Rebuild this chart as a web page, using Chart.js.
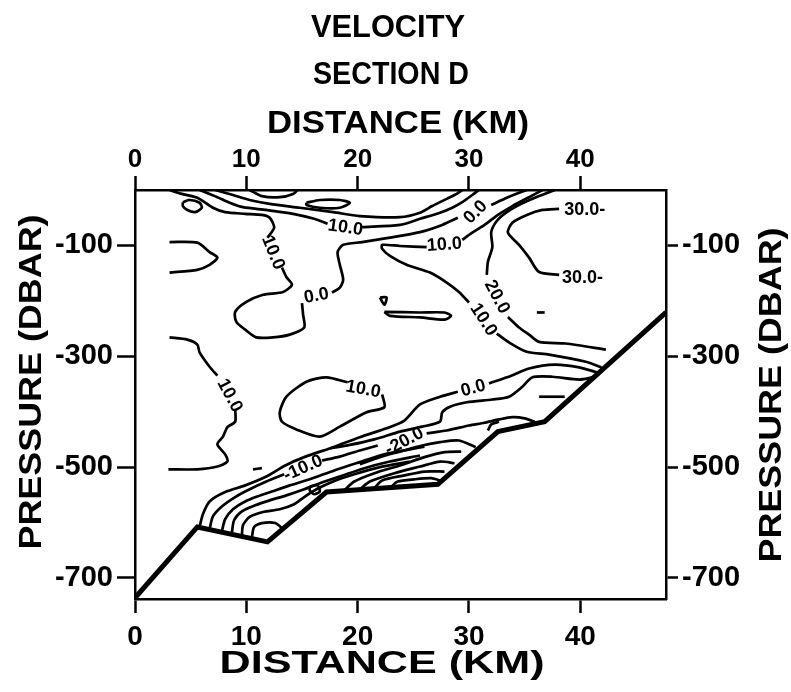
<!DOCTYPE html>
<html>
<head>
<meta charset="utf-8">
<script src="https://cdn.jsdelivr.net/npm/chart.js@4.4.1/dist/chart.umd.min.js"></script>
<style>
  html, body { margin: 0; padding: 0; background: #fff; }
  #wrap { width: 791px; height: 692px; }
</style>
</head>
<body>
<div id="wrap"><canvas id="c" width="791" height="692"></canvas></div>
<script>
// --- axis ranges and ticks ---
const distTicks = [0, 10, 20, 30, 40];
const presTicks = [-100, -300, -500, -700];
const distRange = [0, 47.7];
const presRange = [-738, 0];

// --- bottom topography (km, dbar) ---
const bottom = [[0,-736],[5.6,-608],[11.9,-635],[17.2,-545],[27.2,-531],[32.6,-436],[36.8,-418],[47.7,-221]];

// --- contour traces (km, dbar), split where a label sits ---
const topA = [[7.2,0],[8.8,-9],[10.3,-18],[12.1,-25],[14.8,-32],[17.8,-40],[20.2,-47],[23.8,-49],[25.6,-41],[26.7,-29],[28.0,-16],[28.9,-7],[29.4,0]];
const topB1 = [[5.8,0],[7.4,-13],[8.5,-23],[9.7,-31],[11.8,-36],[14.2,-43],[16.1,-52],[17.3,-61]];
const topB2 = [[20.4,-67],[23.8,-63],[25.6,-52],[27.4,-41],[28.5,-32],[29.4,-22],[30.3,-9],[30.9,0]];
const topC1 = [[3.1,0],[4.2,-7],[5.6,-14],[7.0,-32],[8.1,-40],[9.9,-43],[11.4,-45],[12.1,-50],[12.5,-68],[11.9,-86]];
const topC2 = [[13.2,-140],[13.6,-157],[14.1,-171],[13.3,-184],[11.5,-189],[10.0,-202],[9.0,-220],[9.1,-238],[9.9,-252],[10.9,-266],[12.4,-266],[13.9,-261],[15.2,-248],[15.1,-225],[15.0,-204]];
const topC3 = [[17.7,-185],[18.4,-176],[18.7,-162],[18.4,-135],[18.2,-112],[18.7,-99],[20.4,-94],[22.9,-86],[25.6,-76],[27.6,-63],[29.0,-50]];
const topC4 = [[32.0,-27],[33.4,-14],[34.5,-5],[35.2,0]];
const topD1 = [[36.6,0],[35.4,-13],[33.9,-29],[32.6,-45],[31.4,-63],[30.3,-77],[29.4,-90]];
const topD2 = [[26.2,-103],[23.8,-101],[22.2,-99],[22.2,-106],[22.9,-119],[24.4,-135],[26.5,-149],[28.0,-167],[29.1,-184],[30.0,-203]];
const topD3 = [[32.5,-259],[33.6,-275],[35.2,-292],[37.2,-297],[40.5,-310],[41.9,-320]];
const c20a = [[37.7,0],[36.3,-11],[34.7,-25],[33.4,-40],[32.5,-56],[32.0,-76],[32.1,-103],[31.7,-130],[31.6,-153]];
const c20b = [[33.5,-229],[34.5,-248],[35.4,-261],[36.3,-274],[38.7,-277],[42.3,-288]];
const c30 = [[38.1,-34],[36.6,-36],[35.2,-45],[33.9,-59],[33.5,-77],[34.5,-99],[35.4,-122],[36.3,-148],[38.1,-153]];
const loopE1 = [[4.3,-22],[4.9,-18],[5.8,-23],[6.0,-32],[5.4,-40],[4.7,-36],[4.3,-29],[4.3,-22]];
const loopE2 = [[15.4,-23],[16.6,-18],[18.4,-18],[19.3,-23],[18.4,-32],[16.6,-32],[15.4,-27],[15.4,-23]];
const dipU = [[10.3,0],[11.4,-11],[13.0,-13],[14.2,-7],[14.6,0]];
const left1 = [[3.1,-94],[5.6,-95],[6.7,-112],[7.4,-122],[6.7,-135],[5.6,-144],[3.1,-149]];
const left2a = [[3.1,-266],[4.7,-270],[5.6,-279],[5.8,-293],[6.7,-319],[7.4,-335]];
const left2b = [[9.0,-396],[9.0,-418],[8.3,-428],[7.9,-445],[7.4,-459],[8.1,-477],[8.3,-490],[7.4,-499],[5.6,-504],[3.0,-504]];
const midLoop = [[22.2,-369],[22.4,-392],[20.8,-401],[18.4,-427],[16.6,-445],[14.5,-432],[13.2,-418],[13.0,-401],[13.6,-373],[15.4,-346],[17.2,-338],[19.1,-347]];
const wedge = [[22.4,-220],[25.6,-221],[27.8,-221],[28.4,-227],[27.8,-234],[25.6,-230],[22.9,-227],[22.4,-220]];
const blip = [[22.0,-194],[22.6,-194],[22.4,-207],[22.0,-194]];
const dash1 = [[36.1,-221],[36.8,-221]];
const dash2 = [[10.6,-504],[11.4,-502]];
const b0a = [[5.8,-608],[6.1,-585],[6.7,-562],[8.1,-545],[9.9,-533],[11.7,-518],[13.5,-497],[15.2,-482],[17.8,-464],[20.2,-446],[22.6,-430],[24.2,-416],[25.6,-387],[27.4,-373],[29.0,-364]];
const b0b = [[31.8,-349],[33.8,-335],[35.4,-322],[37.7,-315],[39.9,-320],[41.5,-329]];
const b0c = [[17.5,-466],[19.3,-460],[21.5,-450],[23.8,-436],[25.8,-427],[27.4,-418],[27.6,-401],[28.3,-391],[29.8,-383],[32.1,-378],[33.6,-373],[34.8,-355],[35.7,-338],[37.5,-337],[39.9,-342],[41.1,-338]];
const b1a = [[6.7,-612],[7.0,-589],[7.8,-571],[9.0,-554],[10.3,-540],[11.8,-526],[13.4,-513]];
const b1b = [[16.8,-488],[18.4,-481],[20.2,-470],[21.8,-461]];
const b1c = [[26.2,-439],[28.0,-434],[30.0,-425],[31.4,-420],[32.7,-414],[33.9,-410],[35.0,-412],[35.9,-418]];
const bump = [[31.7,-434],[32.0,-423],[32.7,-418]];
const shortLine = [[36.3,-373],[38.6,-373]];
const b2 = [[7.8,-616],[8.1,-594],[8.8,-576],[9.9,-562],[11.0,-553],[12.3,-544],[13.9,-533],[15.7,-522],[17.9,-506],[20.2,-491],[22.4,-477],[24.7,-468],[26.0,-463]];
const b3 = [[8.7,-619],[8.9,-596],[9.6,-580],[10.8,-569],[12.1,-560],[13.6,-551],[15.2,-540],[16.6,-529],[18.4,-517],[20.6,-502],[22.9,-490],[25.6,-479]];
const b4 = [[9.6,-625],[9.7,-605],[10.3,-590],[11.5,-581],[13.0,-576],[14.3,-567],[15.2,-554],[16.3,-540],[17.8,-526],[19.7,-513],[22.0,-500],[24.7,-490]];
const b5 = [[10.5,-627],[10.7,-608],[11.4,-601],[12.6,-601],[13.3,-612]];
const smallLoop = [[15.7,-535],[16.4,-533],[16.6,-544],[16.1,-549],[15.7,-542],[15.7,-535]];
const d0 = [[20.2,-495],[22.0,-482],[23.8,-472],[25.8,-461],[27.4,-455],[29.1,-452],[30.6,-464]];
const d1 = [[18.8,-542],[19.7,-526],[21.5,-511],[23.8,-497],[26.0,-482],[27.8,-473],[29.3,-472]];
const d2 = [[20.2,-540],[21.1,-526],[23.3,-511],[25.6,-499],[27.4,-490],[28.7,-493]];
const d3 = [[21.5,-538],[22.2,-524],[24.2,-515],[26.0,-508],[27.8,-508]];
const d4 = [[23.0,-536],[23.6,-526],[25.1,-522],[26.6,-520],[27.4,-524]];

const contours = [topA, topB1, topB2, topC1, topC2, topC3, topC4, topD1, topD2, topD3,
  c20a, c20b, c30, loopE1, loopE2, dipU, left1, left2a, left2b, midLoop, wedge, blip,
  dash1, dash2, b0a, b0b, b0c, b1a, b1b, b1c, bump, shortLine, b2, b3, b4, b5,
  smallLoop, d0, d1, d2, d3, d4];

// --- contour labels ---
const labelText = ['10.0','10.0','0.0','0.0','10.0','10.0','20.0','30.0-','30.0-','10.0','10.0','0.0','-10.0','-20.0'];
const labelAt = [[18.9,-68],[12.4,-113],[16.3,-191],[30.6,-40],[27.8,-99],[31.3,-234],[32.5,-193],[40.4,-36],[40.2,-158],[8.5,-371],[20.5,-360],[30.4,-358],[15.1,-502],[24.2,-454]];
const labelTilt = [8, 68, -10, -45, -4, 57, 62, 0, 0, 62, 10, -15, -24, -28];

const FONT = '"Liberation Sans", Arial, Helvetica, sans-serif';

function stretchText(ctx, text, cx, cy, size, width, rot) {
  ctx.save();
  ctx.font = 'bold ' + size + 'px ' + FONT;
  const w = ctx.measureText(text).width;
  ctx.translate(cx, cy);
  ctx.rotate(rot);
  ctx.scale(width / w, 1);
  ctx.textAlign = 'center';
  ctx.textBaseline = 'middle';
  ctx.fillStyle = '#000';
  ctx.fillText(text, 0, 0);
  ctx.restore();
}

const annotations = {
  id: 'annotations',
  afterDatasetsDraw(chart) {
    const { ctx, scales } = chart;
    ctx.save();
    ctx.fillStyle = '#000';
    ctx.textAlign = 'center';
    ctx.textBaseline = 'middle';
    ctx.font = 'bold 18px ' + FONT;
    labelText.forEach((t, i) => {
      ctx.save();
      ctx.translate(scales.x.getPixelForValue(labelAt[i][0]), scales.y.getPixelForValue(labelAt[i][1]));
      ctx.rotate(labelTilt[i] * Math.PI / 180);
      ctx.fillText(t, 0, 0);
      ctx.restore();
    });
    ctx.restore();
  },
  afterDraw(chart) {
    const ctx = chart.ctx;
    stretchText(ctx, 'VELOCITY', 388, 28, 32, 154, 0);
    stretchText(ctx, 'SECTION D', 391, 75, 32, 156, 0);
    stretchText(ctx, 'DISTANCE (KM)', 398, 124, 32, 262, 0);
    stretchText(ctx, 'DISTANCE (KM)', 382, 664, 32, 325, 0);
    stretchText(ctx, 'PRESSURE (DBAR)', 32, 382, 32, 335, -Math.PI / 2);
    stretchText(ctx, 'PRESSURE (DBAR)', 772, 395, 32, 335, -Math.PI / 2);
  }
};

const lineSets = contours.map(seg => ({
  data: seg,
  showLine: true,
  borderColor: '#000',
  borderWidth: 2.7,
  pointRadius: 0,
  tension: 0.25,
  fill: false
}));
lineSets.push({
  data: bottom,
  showLine: true,
  borderColor: '#000',
  borderWidth: 5,
  pointRadius: 0,
  tension: 0,
  fill: false
});

function axisX(pos, boxH, size, pad) {
  return {
    type: 'linear', position: pos, min: distRange[0], max: distRange[1],
    afterFit: s => { s.height = boxH; },
    afterBuildTicks: s => { s.ticks = distTicks.map(v => ({ value: v })); },
    grid: { drawOnChartArea: false, drawTicks: true, tickLength: 14, tickWidth: 2.5, tickColor: '#000' },
    border: { display: true, color: '#000', width: 2.5 },
    ticks: { color: '#000', padding: pad, maxRotation: 0, font: { family: FONT, size: size, weight: 'bold' } }
  };
}
function axisY(pos, boxW, tick) {
  return {
    type: 'linear', position: pos, min: presRange[0], max: presRange[1],
    afterFit: s => { s.width = boxW; },
    afterBuildTicks: s => { s.ticks = presTicks.map(v => ({ value: v })); },
    grid: { drawOnChartArea: false, drawTicks: true, tickLength: tick, tickWidth: 2.5, tickColor: '#000' },
    border: { display: true, color: '#000', width: 2.5 },
    ticks: { color: '#000', padding: 4, font: { family: FONT, size: 29, weight: 'bold' } }
  };
}

new Chart(document.getElementById('c'), {
  type: 'scatter',
  data: { datasets: lineSets },
  options: {
    responsive: false,
    animation: false,
    devicePixelRatio: 1,
    layout: { padding: 0 },
    plugins: { legend: { display: false }, tooltip: { enabled: false }, title: { display: false } },
    scales: {
      x: axisX('bottom', 93, 28, 7),
      x2: axisX('top', 190, 26, 1),
      y: axisY('left', 135, 18),
      y2: axisY('right', 125, 12)
    }
  },
  plugins: [annotations]
});
</script>
</body>
</html>
